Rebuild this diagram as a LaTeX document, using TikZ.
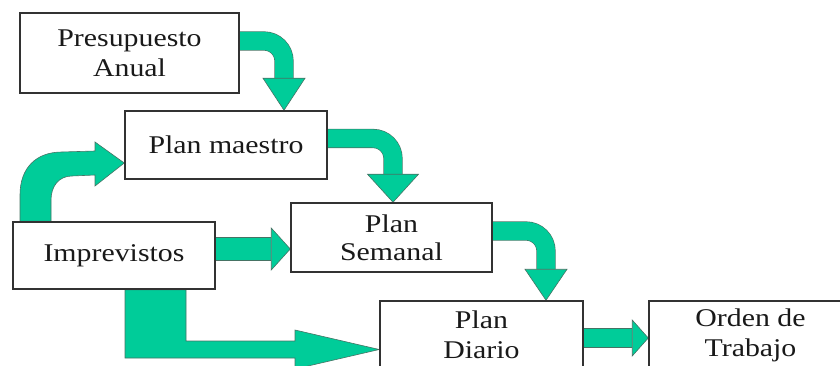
\documentclass[tikz,border=0pt]{standalone}
\usepackage{fontspec}
\setmainfont{Liberation Serif}[FakeStretch=1.17]
\usetikzlibrary{calc,backgrounds}
\definecolor{flowfill}{RGB}{0,204,153}
\definecolor{flowline}{RGB}{70,115,100}
\definecolor{boxline}{RGB}{50,50,50}
\definecolor{txt}{RGB}{25,25,25}
\newcommand{\lblfont}{\fontsize{25.5}{30}\selectfont}
\tikzset{
  box/.style={draw=boxline, line width=1.5pt, fill=white, inner sep=0pt,
    align=center, font=\lblfont, text=txt},
  flowshaft/.style={draw=flowline, line width=0.6pt, double=flowfill,
    double distance=#1, rounded corners=20pt},
  flowhead/.style={fill=flowfill, draw=flowline, line width=0.6pt, line join=miter},
}
\begin{document}
\begin{tikzpicture}[x=1pt,y=-1pt]
\useasboundingbox (0,0) rectangle (840,366);

% boxes
\node[box, minimum width=219pt, minimum height=80pt] (pa) at (129.5,53) {Presupuesto\\Anual};
\node[box, minimum width=202pt, minimum height=68pt] (pm) at (226,145) {Plan maestro};
\node[box, minimum width=202pt, minimum height=67pt] (im) at (114,255.5) {Imprevistos};
\node[box, minimum width=201pt, minimum height=69pt] (ps) at (391.5,237.5) {Plan\\[-2pt]Semanal};
\node[box, minimum width=203pt, minimum height=68pt] (pd) at (481.5,335) {Plan\\Diario};
\node[box, minimum width=203pt, minimum height=68pt] (ot) at (750.5,335) {Orden de\\Trabajo};

\begin{scope}[on background layer]
  % Presupuesto Anual -> Plan maestro
  \draw[flowshaft=18pt] ($(pa.east)+(0,-12)$) -| ($(pm.north)+(58,-32)$);
  \filldraw[flowhead] ($(pm.north)+(58,0)$) -- ++(-21,-32) -- ++(42,0) -- cycle;
  % Plan maestro -> Plan Semanal
  \draw[flowshaft=18pt] ($(pm.east)+(0,-6.5)$) -| ($(ps.north)+(1.5,-28)$);
  \filldraw[flowhead] ($(ps.north)+(1.5,0)$) -- ++(-25.5,-28) -- ++(51,0) -- cycle;
  % Plan Semanal -> Plan Diario
  \draw[flowshaft=18pt] ($(ps.east)+(0,-6.5)$) -| ($(pd.north)+(64.5,-31)$);
  \filldraw[flowhead] ($(pd.north)+(64.5,0)$) -- ++(-21,-31) -- ++(42,0) -- cycle;
  % Plan Diario -> Orden de Trabajo
  \draw[flowshaft=18pt] ($(pd.east)+(0,3)$) -- ($(ot.west)+(-16,3)$);
  \filldraw[flowhead] ($(ot.west)+(0,3)$) -- ++(-16,-18) -- ++(0,36) -- cycle;
  % Imprevistos -> Plan Semanal
  \draw[flowshaft=22pt] ($(im.east)+(0,-6.5)$) -- ($(ps.west)+(-19,11.5)$);
  \filldraw[flowhead] ($(ps.west)+(0,11.5)$) -- ++(-19,-21) -- ++(0,42) -- cycle;
  % Imprevistos -> Plan maestro (curved, tapering)
  \filldraw[flowhead] ($(im.north)+(-94,0)$) -- (20,195)
    .. controls (20,168) and (36,152) .. (62,152) -- (95,151) -- (95,142)
    -- ($(pm.west)+(0,18)$) -- (95,186) -- (95,175) -- (72,176)
    .. controls (59,176) and (51,186) .. (51,200) -- ($(im.north)+(-63,0)$) -- cycle;
  % Imprevistos -> Plan Diario (bent)
  \filldraw[flowhead] ($(im.south)+(11,0)$) -- ($(im.south)+(72,0)$) -- (186,341)
    -- (295,341) -- (295,330) -- ($(pd.west)+(0,14.5)$) -- (295,369) -- (295,358)
    -- (125,358) -- cycle;
\end{scope}
\end{tikzpicture}
\end{document}
